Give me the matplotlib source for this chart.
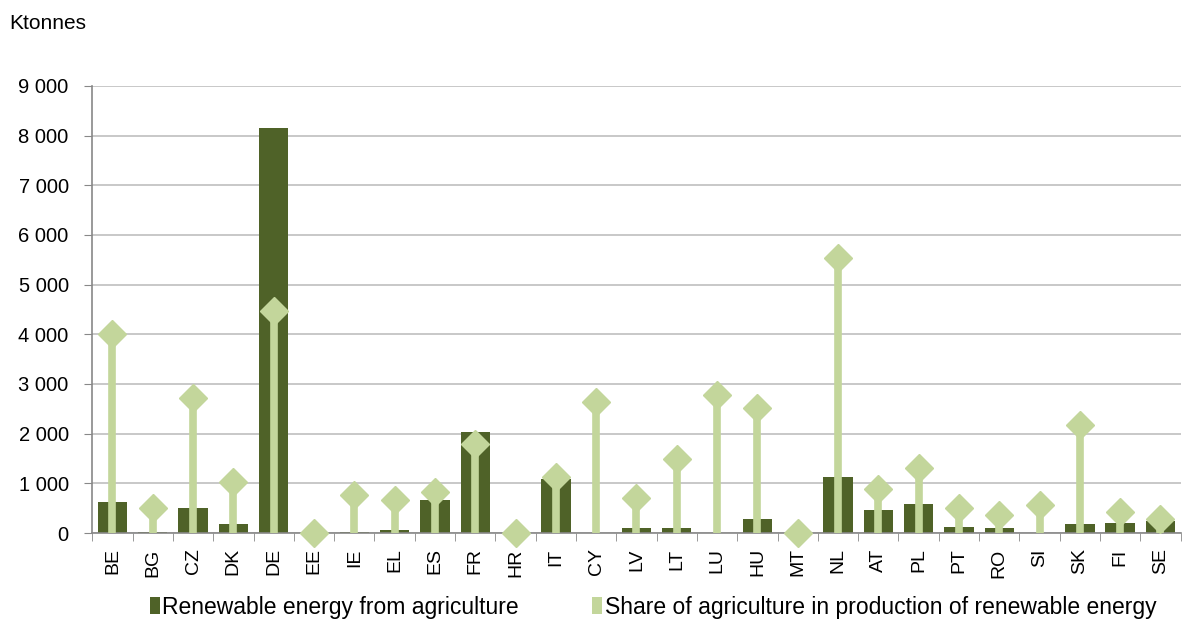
import matplotlib.pyplot as plt
import numpy as np
from matplotlib.patches import Patch

plt.rcParams['font.family'] = ['Liberation Sans', 'DejaVu Sans']

countries = ['BE', 'BG', 'CZ', 'DK', 'DE', 'EE', 'IE', 'EL', 'ES', 'FR', 'HR', 'IT', 'CY', 'LV',
             'LT', 'LU', 'HU', 'MT', 'NL', 'AT', 'PL', 'PT', 'RO', 'SI', 'SK', 'FI', 'SE']

# renewable energy from agriculture (ktonnes)
energy = [620, 30, 500, 180, 8150, 0, 30, 70, 660, 2040, 0, 1090, 0, 100,
          100, 0, 280, 0, 1130, 460, 590, 130, 110, 0, 175, 210, 240]

# share of agriculture in renewable energy production
share = [4000, 510, 2710, 1020, 4470, 0, 765, 660, 830, 1785, 0, 1120, 2640, 700,
         1490, 2780, 2510, 0, 5540, 880, 1300, 500, 360, 560, 2170, 415, 275]

dark = '#4F6228'
light = '#C3D69B'
grid_c = '#BFBFBF'

fig = plt.figure(figsize=(11.83, 6.22), dpi=100)
ax = fig.add_axes([0.078, 0.143, 0.92, 0.719])

x = np.arange(len(countries))
ax.bar(x, energy, width=0.73, color=dark, zorder=2)
ax.vlines(x, 0, share, color=light, lw=5.5, zorder=3)
ax.plot(x, share, 'D', color=light, ms=14, ls='none', zorder=4, clip_on=False)

ax.set_xlim(-0.5, len(countries) - 0.5)
ax.set_ylim(0, 9000)
ax.set_yticks(np.arange(0, 9001, 1000))
ax.set_yticklabels([f'{v:,}'.replace(',', ' ') for v in range(0, 9001, 1000)], fontsize=14.5)
ax.yaxis.grid(True, color=grid_c, lw=1.2, zorder=0)

# category labels centred, tick marks on boundaries
ax.set_xticks(x)
ax.set_xticklabels(countries, rotation=90, fontsize=14)
ax.tick_params(axis='x', length=0, pad=11)
ax.set_xticks(np.arange(-0.5, len(countries), 1), minor=True)
ax.tick_params(axis='x', which='minor', length=6, color='#888888', direction='out')
ax.tick_params(axis='y', length=6, color='#888888', direction='out', pad=11)

for s in ['top', 'right']:
    ax.spines[s].set_visible(False)
for s in ['left', 'bottom']:
    ax.spines[s].set_color('#888888')
    ax.spines[s].set_linewidth(1.2)

fig.text(0.008, 0.962, 'Ktonnes', fontsize=15, va='center', ha='left')

handles = [Patch(facecolor=dark), Patch(facecolor=light)]
labels = ['Renewable energy from agriculture',
          'Share of agriculture in production of renewable energy']
fig.legend(handles, labels, loc='center', bbox_to_anchor=(0.552, 0.024), ncol=2, frameon=False,
           fontsize=16.5, handlelength=0.45, handleheight=0.75, handletextpad=0.1, columnspacing=3.2)

fig.savefig('out.png', dpi=100)
